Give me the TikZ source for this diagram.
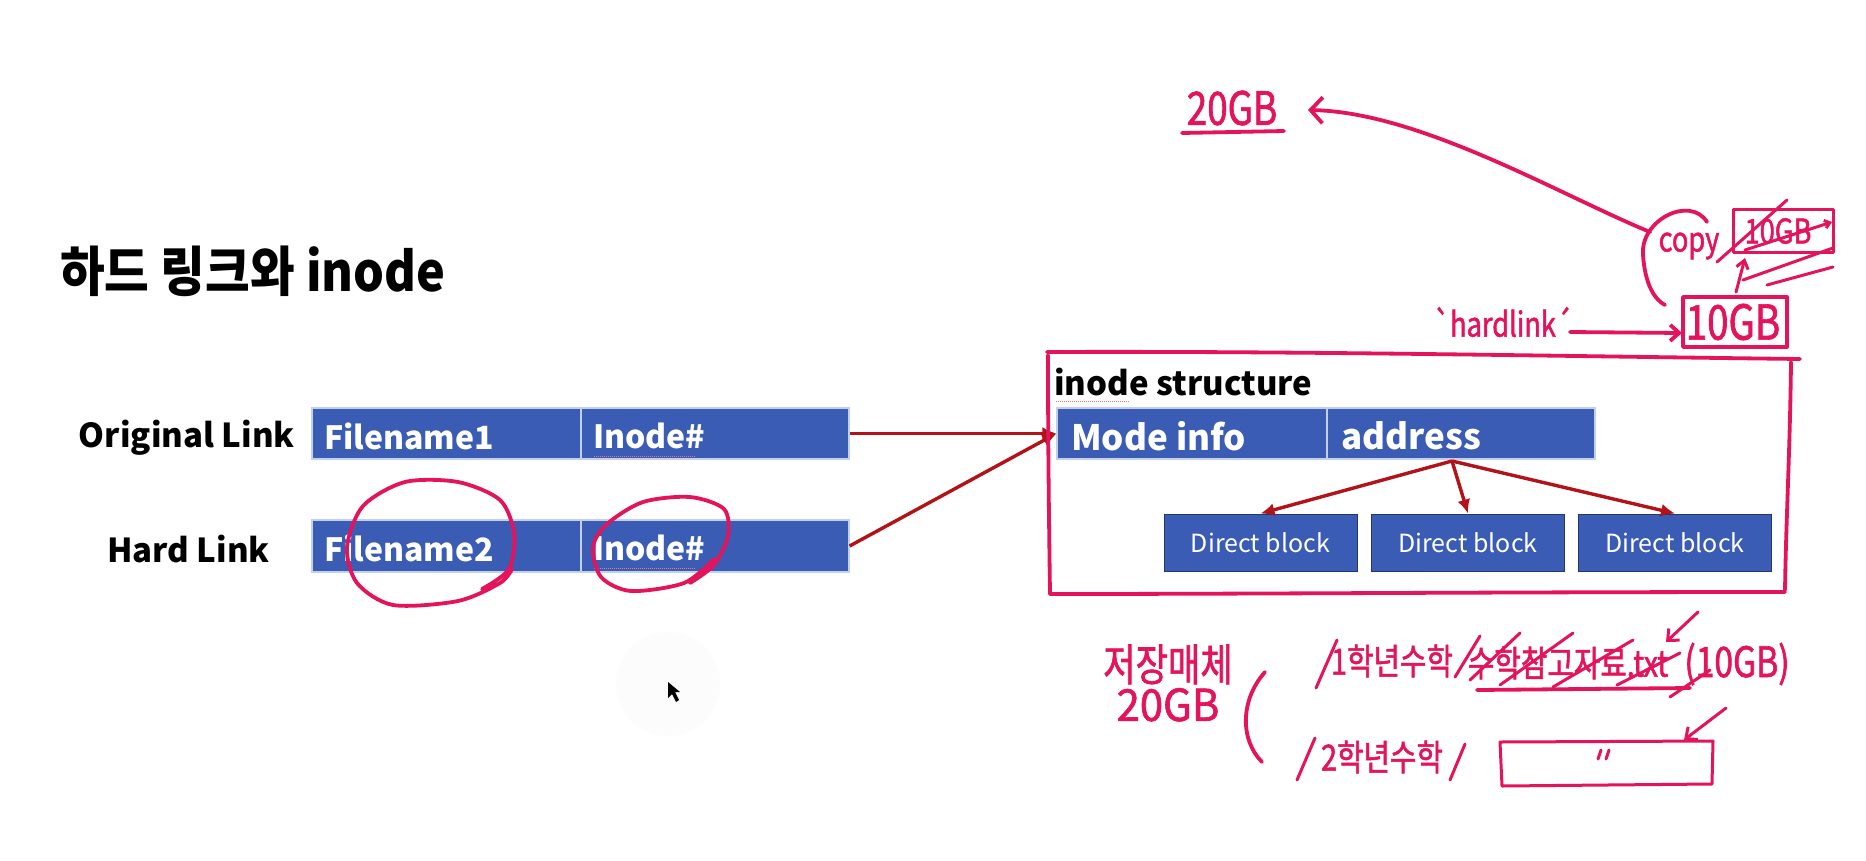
\documentclass[tikz,border=0pt]{standalone}
\usepackage{fontspec}
\setmainfont{Noto Sans CJK KR}
\newfontfamily\hand{Noto Sans CJK KR}[FakeStretch=0.8,FakeBold=1.4]
\newfontfamily\handwide{Noto Sans CJK KR}[FakeStretch=0.95,FakeBold=1.4]
\newfontfamily\titlefont{Noto Sans CJK KR}[FakeStretch=0.9]
\usetikzlibrary{arrows.meta}
\definecolor{cellblue}{RGB}{58,92,180}
\definecolor{celledge}{RGB}{195,208,236}
\definecolor{darkred}{RGB}{178,18,24}
\definecolor{ink}{RGB}{228,20,92}
\newcommand{\fsz}[1]{\fontsize{#1}{#1}\selectfont}
\begin{document}
\begin{tikzpicture}[x=1pt,y=-1pt,
  cellbox/.style={draw=celledge, line width=1.2pt, fill=cellblue, inner sep=0pt},
  celltxt/.style={text=white, font=\bfseries\fsz{32}, anchor=west, inner sep=0pt},
  lbl/.style={font=\bfseries\fsz{33}, anchor=east, inner sep=0pt},
  blk/.style={draw=cellblue!60!black, line width=1pt, fill=cellblue, inner sep=0pt, minimum width=193pt, minimum height=57pt, text=white, font=\fsz{25}},
  arr/.style={draw=darkred, line width=3.4pt, -{Latex[length=14pt,width=13pt]}},
  pen/.style={draw=ink, line width=3.8pt, line cap=round, line join=round},
  thinpen/.style={draw=ink, line width=3pt, line cap=round, line join=round},
  hw/.style={text=ink, inner sep=0pt},
  squig/.style={draw=red!55, line width=1pt, densely dotted},
]
\useasboundingbox (0,0) rectangle (1866,860);
\fill[white] (0,0) rectangle (1866,860);

% cursor highlight
\fill[gray!2] (668,684) circle (52);

% title
\node[anchor=base west, font=\titlefont\bfseries\fsz{54}, inner sep=0pt] (title) at (60,291) {하드 링크와 inode};

% left table
\node[lbl] (ol) at (295,438) {Original Link};
\node[lbl] (hl) at (270,549) {Hard Link};
\node[cellbox, minimum width=269pt, minimum height=51pt] (f1) at (446.5,433.5) {};
\node[cellbox, minimum width=268pt, minimum height=51pt] (i1) at (715,433.5) {};
\node[cellbox, minimum width=269pt, minimum height=52pt] (f2) at (446.5,546) {};
\node[cellbox, minimum width=268pt, minimum height=52pt] (i2) at (715,546) {};
\node[celltxt] (f1t) at (324,436) {Filename1};
\node[celltxt] (i1t) at (593,436) {Inode\#};
\node[celltxt] (f2t) at (324,548) {Filename2};
\node[celltxt] (i2t) at (593,548) {Inode\#};
\draw[squig] (594,456) -- (695,456);
\draw[squig] (594,568) -- (695,568);

% inode structure
\node[anchor=west, font=\bfseries\fsz{33}, inner sep=0pt] (ist) at (1054,382) {inode structure};
\draw[squig] (1056,401) -- (1130,401);
\node[cellbox, minimum width=270pt, minimum height=51pt] (mi) at (1192,433.5) {};
\node[cellbox, minimum width=268pt, minimum height=51pt] (ad) at (1461,433.5) {};
\node[celltxt, font=\bfseries\fsz{35}] (mit) at (1071,436) {Mode info};
\node[celltxt, font=\bfseries\fsz{35}] (adt) at (1341,436) {address};
\node[blk] (d1) at (1260.5,542.5) {Direct block};
\node[blk] (d2) at (1468,542.5) {Direct block};
\node[blk] (d3) at (1675,542.5) {Direct block};
\coordinate (adb) at (1452,461);

% arrows
\draw[arr] (i1.east) -- (mi.west);
\draw[arr] (i2.east) -- (mi.west);
\draw[arr] (adb) -- (d1.north);
\draw[arr] (adb) -- (d2.north);
\draw[arr] (adb) -- (d3.north);

% hand-drawn inode box
\draw[pen] (1047,352) .. controls (1300,351) and (1550,356) .. (1800,359);
\draw[pen] (1791,362) .. controls (1790,450) and (1786,520) .. (1785,590);
\draw[pen] (1785,592) .. controls (1500,592) and (1250,594) .. (1050,594);
\draw[pen] (1048,355) .. controls (1048,450) and (1049,520) .. (1050,594);

% circles
\draw[pen] plot[smooth] coordinates {(512,569) (500,583) (458,601) (393,605) (357,583) (347,547) (363,506) (405,482) (458,482) (500,500) (514,533) (509,569) (482,589)};
\draw[pen] plot[smooth] coordinates {(714,559) (684,583) (631,591) (601,577) (593,547) (607,524) (643,502) (690,497) (724,509) (728,536) (714,565) (690,583)};

% top handwriting
\node[hw, font=\hand\fsz{46}] (gb20) at (1232,108) {20GB};
\draw[pen] (1182,133) -- (1284,131);
\coordinate (cpstart) at (1650,232);
\draw[pen, -{Straight Barb[length=12pt,width=26pt]}] (cpstart) .. controls (1560,195) and (1420,112) .. (1308,110);
\draw[pen] (1707,222) .. controls (1690,195) and (1640,220) .. (1643,255) .. controls (1645,285) and (1655,300) .. (1665,305);
\node[hw, font=\hand\fsz{34}] (copy) at (1689,246) {copy};
\node[thinpen, minimum width=100pt, minimum height=43pt, inner sep=0pt] (cbox) at (1783,231) {};
\node[hw, font=\hand\fsz{34}] (c10) at (1778,231) {10GB};
\draw[thinpen] (1717,262) -- (1787,200);
\draw[thinpen, -{Straight Barb[length=5pt,width=8pt]}] (1745,250) -- (1832,222);
\draw[thinpen] (1743,280) -- (1833,248);
\draw[thinpen] (1767,285) -- (1833,267);
\node[pen, minimum width=104pt, minimum height=50pt, inner sep=0pt] (g10) at (1735,322) {};
\node[hw, font=\hand\fsz{48}] (g10t) at (1733,322) {10GB};
\draw[thinpen, -{Straight Barb[length=8pt,width=12pt]}] (1736,292) -- (1745,258);
\node[hw, font=\hand\fsz{34}] (hlk) at (1503,322) {`hardlink´};
\coordinate (hlkend) at (1682,333);
\draw[pen, -{Straight Barb[length=9pt,width=16pt]}] (1570,332) -- (hlkend);

% bottom handwriting
\node[hw, align=center, font=\hand\fsz{44}] (med) at (1168,683) {저장매체\\[-4pt]{\handwide 20GB}};
\draw[pen] (1265,672) .. controls (1240,700) and (1240,740) .. (1262,762);
\draw[thinpen] (1316,688) -- (1337,640);
\node[hw, font=\hand\fsz{36}] (y1) at (1392,661) {1학년수학};
\draw[thinpen] (1455,677) -- (1480,636);
\node[hw, font=\hand\fsz{36}] (ref) at (1568,663) {수학참고자료.txt};
\draw[pen] (1477,690) -- (1690,688);
\draw[thinpen] (1470,680) -- (1520,633);
\draw[thinpen] (1500,685) -- (1573,633);
\draw[thinpen] (1553,687) -- (1633,640);
\draw[thinpen] (1617,685) -- (1680,653);
\draw[thinpen] (1670,697) -- (1710,670);
\node[hw, font=\hand\fsz{42}] (gb10) at (1737,664) {(10GB)};
\draw[thinpen, -{Straight Barb[length=9pt,width=16pt]}] (1698,612) -- (1666,642);
\draw[thinpen] (1297,780) -- (1315,738);
\node[hw, font=\hand\fsz{36}] (y2) at (1382,757) {2학년수학};
\draw[thinpen] (1450,780) -- (1465,744);
\draw[thinpen] (1500,742) -- (1713,741) -- (1712,784) -- (1502,786) -- cycle;
\draw[thinpen] (1601,750) -- (1598,759);
\draw[thinpen] (1609,750) -- (1606,759);
\draw[thinpen, -{Straight Barb[length=9pt,width=16pt]}] (1726,708) -- (1684,740);

% cursor
\fill[black] (668,682) -- (668,698) -- (672,694) -- (676,702) -- (679,700) -- (675,692) -- (680,692) -- cycle;
\end{tikzpicture}
\end{document}
